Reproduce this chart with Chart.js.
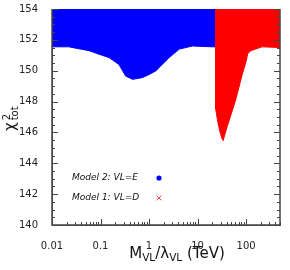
<!DOCTYPE html>
<html>
<head>
<meta charset="utf-8">
<script src="https://cdn.jsdelivr.net/npm/chart.js@4"></script>
<style>
  html, body { margin: 0; padding: 0; background: #fff; }
</style>
</head>
<body>
<canvas id="chi2Chart" width="290" height="270"></canvas>
<script>
// lower edge of each scan cloud (everything above it up to 154 is filled)
const model2X   = [0.01, 0.022, 0.058, 0.093, 0.15, 0.24, 0.33, 0.46, 0.72, 1.0, 1.4, 1.6, 2.6, 4.2, 7.8, 20, 25];
const model2Chi = [151.55, 151.55, 151.3, 151.07, 150.85, 150.4, 149.65, 149.44, 149.55, 149.75, 150.0, 150.2, 150.85, 151.4, 151.6, 151.55, 151.55];

const model1X   = [23.7, 23.7, 25.6, 28.7, 31.6, 33.6, 41, 61, 84, 100, 108, 125, 214, 500];
const model1Chi = [154, 147.5, 146.84, 146.07, 145.64, 145.47, 146.4, 148.1, 149.8, 150.6, 151.1, 151.3, 151.55, 151.5];

const seriesNames = ['Model 2: VL=E', 'Model 1: VL=D'];
const xTicks = [0.01, 0.1, 1, 10, 100];
const yTicks = [140, 142, 144, 146, 148, 150, 152, 154];

const toPoints = (xs, ys) => xs.map((x, i) => ({ x: x, y: ys[i] }));

// frame and inward ticks
function drawFrame(chart) {
  const ctx = chart.ctx, a = chart.chartArea;
  const xs = chart.scales.x, ys = chart.scales.y;
  ctx.save();
  ctx.strokeStyle = 'rgb(70,70,70)';
  ctx.lineWidth = 1.5;
  ctx.beginPath();
  ctx.moveTo(a.left, a.top);
  ctx.lineTo(a.left, a.bottom);
  ctx.lineTo(a.right, a.bottom);
  ctx.lineTo(a.right, a.top);
  ctx.stroke();
  ctx.lineWidth = 1;
  ctx.beginPath();
  for (let i = 0; i <= 28; i++) {
    const py = Math.round(ys.getPixelForValue(140 + i * 0.5)) + 0.5;
    const len = i % 4 === 0 ? 6 : 3;
    ctx.moveTo(a.left, py); ctx.lineTo(a.left + len, py);
    ctx.moveTo(a.right, py); ctx.lineTo(a.right - len, py);
  }
  for (const d of xTicks) {
    for (let k = 1; k <= 9; k++) {
      if (d * k > 500) break;
      const px = Math.round(xs.getPixelForValue(d * k)) + 0.5;
      const len = k === 1 ? 6 : 3;
      ctx.moveTo(px, a.bottom); ctx.lineTo(px, a.bottom - len);
    }
  }
  ctx.stroke();
  ctx.restore();
}

// axis titles and the in-plot legend
const decor = {
  id: 'decor',
  afterDraw(chart) {
    const { ctx, chartArea: a } = chart;
    ctx.save();
    ctx.fillStyle = '#111';
    ctx.textBaseline = 'alphabetic';

    // x title: M_VL/λ_VL (TeV)
    const big = '15px "DejaVu Sans"', small = '10.5px "DejaVu Sans"';
    const parts = [['M', big, 0], ['VL', small, 3], ['/λ', big, 0], ['VL', small, 3], [' (TeV)', big, 0]];
    let w = 0;
    parts.forEach(p => { ctx.font = p[1]; w += ctx.measureText(p[0]).width; });
    let x = 177 - w / 2;
    parts.forEach(p => {
      ctx.font = p[1];
      ctx.fillText(p[0], x, 258 + p[2]);
      x += ctx.measureText(p[0]).width;
    });

    // y title: χ²_tot, rotated
    ctx.save();
    ctx.translate(15, 131);
    ctx.rotate(-Math.PI / 2);
    ctx.font = big;
    ctx.fillText('χ', 0, 0);
    const cw = ctx.measureText('χ').width;
    ctx.font = '10px "DejaVu Sans"';
    ctx.fillText('2', cw + 2, -5);
    ctx.fillText('tot', cw + 2, 3);
    ctx.restore();

    // legend
    ctx.font = 'italic 9px "DejaVu Sans"';
    ctx.textBaseline = 'middle';
    ctx.fillText(seriesNames[0], a.left + 20, a.top + 169);
    ctx.fillText(seriesNames[1], a.left + 20, a.top + 189);
    ctx.fillStyle = '#0000ff';
    ctx.beginPath();
    ctx.arc(a.left + 107, a.top + 169, 2.6, 0, Math.PI * 2);
    ctx.fill();
    ctx.strokeStyle = '#ff3030';
    ctx.lineWidth = 0.9;
    const cx = a.left + 107, cy = a.top + 189, s = 2.4;
    ctx.beginPath();
    ctx.moveTo(cx - s, cy - s); ctx.lineTo(cx + s, cy + s);
    ctx.moveTo(cx + s, cy - s); ctx.lineTo(cx - s, cy + s);
    ctx.stroke();
    ctx.restore();

    drawFrame(chart);
  }
};

new Chart(document.getElementById('chi2Chart'), {
  type: 'scatter',
  data: {
    datasets: [
      {
        label: seriesNames[1],
        data: toPoints(model1X, model1Chi),
        showLine: true,
        fill: 'end',
        backgroundColor: '#ff0000',
        borderColor: '#ff0000',
        borderWidth: 1,
        pointRadius: 0,
        clip: 0,
        order: 0
      },
      {
        label: seriesNames[0],
        data: toPoints(model2X, model2Chi),
        showLine: true,
        fill: 'end',
        backgroundColor: '#0000ff',
        borderColor: '#0000ff',
        borderWidth: 1,
        pointRadius: 0,
        clip: 0,
        order: 1
      }
    ]
  },
  options: {
    responsive: false,
    animation: false,
    layout: { padding: { top: 9, right: 10, left: 0, bottom: 0 } },
    plugins: { legend: { display: false }, tooltip: { enabled: false } },
    scales: {
      x: {
        type: 'logarithmic',
        min: 0.01,
        max: 500,
        afterFit: s => { s.height = 45; s.paddingLeft = 0; s.paddingRight = 0; },
        afterBuildTicks: s => { s.ticks = xTicks.map(v => ({ value: v })); },
        grid: { display: false },
        border: { display: true, color: '#505050', width: 1 },
        ticks: {
          padding: 7,
          color: '#222',
          font: { family: 'DejaVu Sans', size: 10 },
          maxRotation: 0,
          autoSkip: false,
          callback: v => String(v)
        }
      },
      y: {
        min: 140,
        max: 154,
        afterFit: s => { s.width = 52; s.paddingTop = 0; s.paddingBottom = 0; },
        afterBuildTicks: s => { s.ticks = yTicks.map(v => ({ value: v })); },
        grid: { display: false },
        border: { display: true, color: '#505050', width: 1 },
        ticks: {
          padding: 6,
          color: '#222',
          font: { family: 'DejaVu Sans', size: 10 }
        }
      }
    }
  },
  plugins: [decor]
});
</script>
</body>
</html>
